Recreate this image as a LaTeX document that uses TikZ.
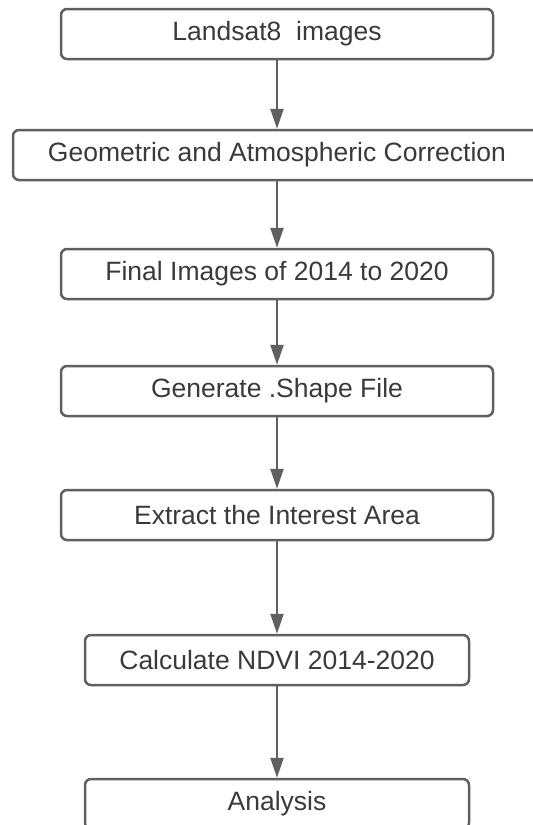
\documentclass[tikz,border=0pt]{standalone}
\usepackage{fontspec}
\setmainfont{Liberation Sans}
\usetikzlibrary{arrows.meta}
\definecolor{fc_line}{RGB}{96, 96, 96}
\definecolor{fc_text}{RGB}{58, 58, 58}
\tikzstyle{box}=[rectangle,rounded corners=3pt,fill=white,draw=fc_line,
  line width=1.25pt,inner sep=0pt,minimum height=25pt,text=fc_text,
  font=\fontsize{13.25}{15}\selectfont]
\tikzstyle{wide}=[minimum width=216pt]
\tikzstyle{narrow}=[minimum width=192pt]
\tikzstyle{arrow}=[draw=fc_line,line width=1.25pt,
  -{Triangle[width=6.5pt,length=10pt]}]

\begin{document}
\begin{tikzpicture}[x=0.5pt, y=-0.5pt]
            \useasboundingbox [fill=white] (0, 0) rectangle (532, 825);
            \node [style=box, style=wide] (0) at (277, 34) {Landsat8\ \ images};
            \node [style=box, minimum width=264pt] (1) at (277, 155) {Geometric and Atmospheric Correction};
            \node [style=box, style=wide] (2) at (277, 274) {Final Images of 2014 to 2020};
            \node [style=box, style=wide] (3) at (277, 391) {Generate .Shape File};
            \node [style=box, style=wide] (4) at (277, 515) {Extract the Interest Area};
            \node [style=box, style=narrow] (5) at (277, 660) {Calculate NDVI 2014-2020};
            \node [style=box, style=narrow] (6) at (277, 804) {Analysis};
            \draw [style=arrow] (0) to (1);
            \draw [style=arrow] (1) to (2);
            \draw [style=arrow] (2) to (3);
            \draw [style=arrow] (3) to (4);
            \draw [style=arrow] (4) to (5);
            \draw [style=arrow] (5) to (6);
    \end{tikzpicture}
\end{document}
